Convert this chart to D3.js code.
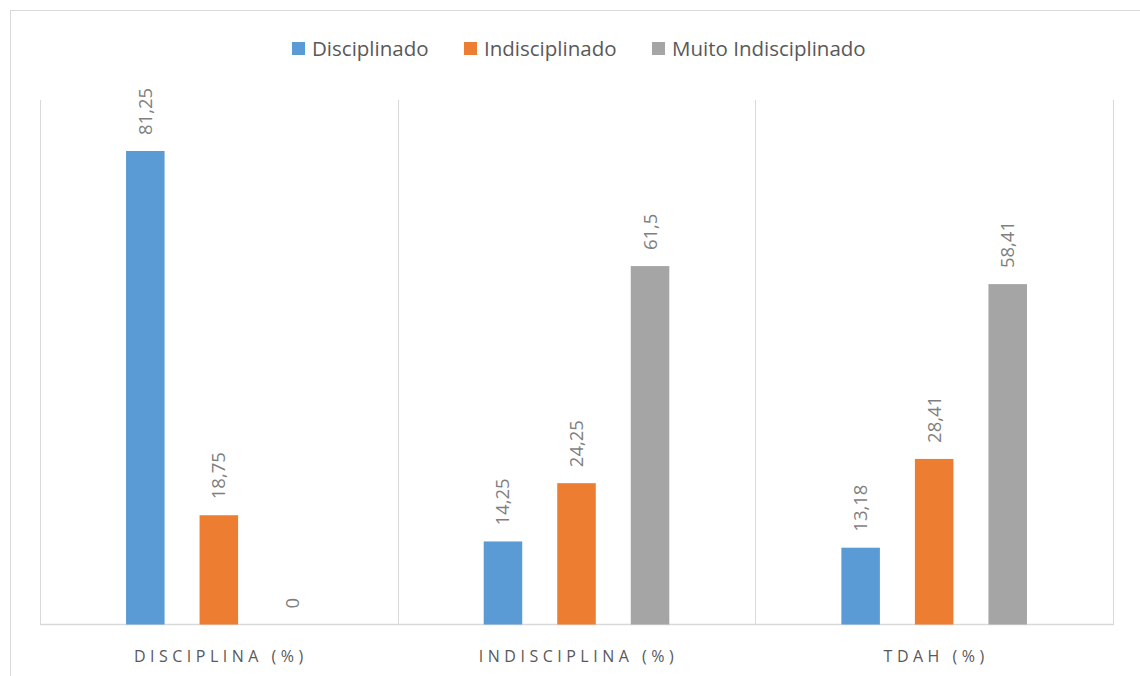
<!DOCTYPE html>
<html>
<head>
<meta charset="utf-8">
<script src="https://cdn.jsdelivr.net/npm/d3@7"></script>
<style>
  body { margin: 0; background: #fff; }
  text { font-family: "Open Sans", sans-serif; }
</style>
</head>
<body>
<script>
const categories = ["DISCIPLINA (%)", "INDISCIPLINA (%)", "TDAH (%)"];
const seriesNames = ["Disciplinado", "Indisciplinado", "Muito Indisciplinado"];
const disciplinado = [81.25, 14.25, 13.18];
const indisciplinado = [18.75, 24.25, 28.41];
const muitoIndisciplinado = [0, 61.5, 58.41];
const colors = ["#5B9BD5", "#ED7D31", "#A5A5A5"];

const W = 1140, H = 676;
const PLOT = { left: 40, right: 1113, top: 100, bottom: 624.5 };
const GRID = "#D9D9D9";

const seriesValues = [disciplinado, indisciplinado, muitoIndisciplinado];

const svg = d3.select("body").append("svg")
  .attr("width", W)
  .attr("height", H);

// outer frame
svg.append("rect")
  .attr("x", 10.5).attr("y", 10.5)
  .attr("width", W).attr("height", H)
  .attr("fill", "none")
  .attr("stroke", GRID);

const x0 = d3.scaleBand()
  .domain(categories)
  .range([PLOT.left, PLOT.right]);

const x1 = d3.scaleBand()
  .domain(seriesNames)
  .range([0, x0.bandwidth()])
  .paddingInner(0.476)
  .paddingOuter(1.17);

const y = d3.scaleLinear()
  .domain([0, 90])
  .range([PLOT.bottom, PLOT.top]);

// category separators
const bounds = categories.map(c => x0(c)).concat([PLOT.right]);
svg.append("g").selectAll("line")
  .data(bounds)
  .join("line")
  .attr("x1", d => Math.round(d) + 0.5)
  .attr("x2", d => Math.round(d) + 0.5)
  .attr("y1", PLOT.top)
  .attr("y2", PLOT.bottom)
  .attr("stroke", GRID);

// baseline
svg.append("line")
  .attr("x1", PLOT.left).attr("x2", PLOT.right + 1)
  .attr("y1", PLOT.bottom).attr("y2", PLOT.bottom)
  .attr("stroke", GRID)
  .attr("stroke-width", 1.5);

const rows = [];
categories.forEach((c, ci) => {
  seriesNames.forEach((s, si) => {
    rows.push({ cat: c, series: s, si: si, value: seriesValues[si][ci] });
  });
});

svg.append("g").selectAll("rect")
  .data(rows)
  .join("rect")
  .attr("x", d => x0(d.cat) + x1(d.series))
  .attr("width", x1.bandwidth())
  .attr("y", d => y(d.value))
  .attr("height", d => y(0) - y(d.value))
  .attr("fill", d => colors[d.si]);

// value labels
const fmt = v => String(v).replace(".", ",");
svg.append("g").selectAll("text")
  .data(rows)
  .join("text")
  .attr("transform", d => {
    const cx = x0(d.cat) + x1(d.series) + x1.bandwidth() / 2;
    return "translate(" + cx + "," + (y(d.value) - 16) + ") rotate(-90)";
  })
  .attr("dy", "0.35em")
  .attr("font-size", 18.5)
  .attr("fill", "#7F7F7F")
  .text(d => fmt(d.value));

// category labels
svg.append("g").selectAll("text")
  .data(categories)
  .join("text")
  .attr("x", d => x0(d) + x0.bandwidth() / 2 + 2)
  .attr("y", 662)
  .attr("text-anchor", "middle")
  .attr("font-size", 16)
  .attr("letter-spacing", "4.5px")
  .attr("fill", "#595959")
  .text(d => d);

// legend
const legendX = [292, 464, 652];
const legend = svg.append("g").selectAll("g")
  .data(seriesNames)
  .join("g")
  .attr("transform", (d, i) => "translate(" + legendX[i] + ",42)");
legend.append("rect")
  .attr("width", 13).attr("height", 13)
  .attr("fill", (d, i) => colors[i]);
legend.append("text")
  .attr("x", 20)
  .attr("y", 14)
  .attr("font-size", 20.5)
  .attr("fill", "#595959")
  .text(d => d);
</script>
</body>
</html>
